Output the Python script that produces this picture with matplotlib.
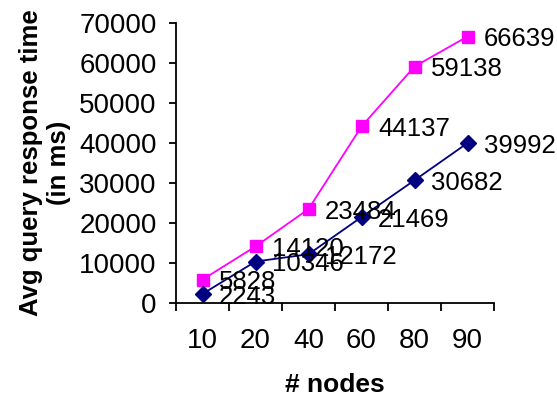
import numpy as np
import matplotlib
matplotlib.use("Agg")
from matplotlib import pyplot as plt

plt.rcParams['font.family'] = ['Liberation Sans', 'DejaVu Sans']

# number of nodes and measured response times (ms)
nodes = ['10', '20', '40', '60', '80', '90']
time_a = [5828, 14120, 23484, 44137, 59138, 66639]
time_b = [2243, 10346, 12172, 21469, 30682, 39992]

fig = plt.figure(figsize=(5.57, 3.98), dpi=100)
ax = fig.add_axes([0.316, 0.239, 0.571, 0.703])

x = np.arange(len(nodes))
ax.plot(x, time_a, color='#FF00FF', marker='s', markersize=8.5, linewidth=1.3)
ax.plot(x, time_b, color='#000080', marker='D', markersize=8, linewidth=1.3)

# value labels to the right of each point
for xi, v in zip(x, time_a):
    ax.annotate(str(v), (xi, v), xytext=(12, -2), textcoords='offset points',
                ha='left', va='center', fontsize=18.5)
for xi, v in zip(x, time_b):
    ax.annotate(str(v), (xi, v), xytext=(12, -2), textcoords='offset points',
                ha='left', va='center', fontsize=18.5)

ax.set_xlim(-0.5, len(nodes) - 0.5)
ax.set_ylim(0, 70000)
ax.set_yticks(range(0, 70001, 10000))
ax.tick_params(axis='y', labelsize=20, length=5, width=1.3, direction='out', pad=9)

# category ticks sit between categories, labels centred on them
ax.set_xticks(np.arange(-0.5, len(nodes)), labels=[''] * (len(nodes) + 1))
ax.set_xticks(x, labels=nodes, minor=True)
ax.tick_params(axis='x', which='major', length=6, width=1.3, direction='out')
ax.tick_params(axis='x', which='minor', length=0, labelsize=20, pad=18)

for s in ['top', 'right']:
    ax.spines[s].set_visible(False)
for s in ['left', 'bottom']:
    ax.spines[s].set_linewidth(1.3)

ax.set_xlabel('# nodes', fontsize=19, fontweight='bold', labelpad=14)
ax.set_ylabel('Avg query response time\n(in ms)', fontsize=18.5, fontweight='bold',
              labelpad=6, linespacing=1.2)

fig.savefig('out.png', dpi=100)
